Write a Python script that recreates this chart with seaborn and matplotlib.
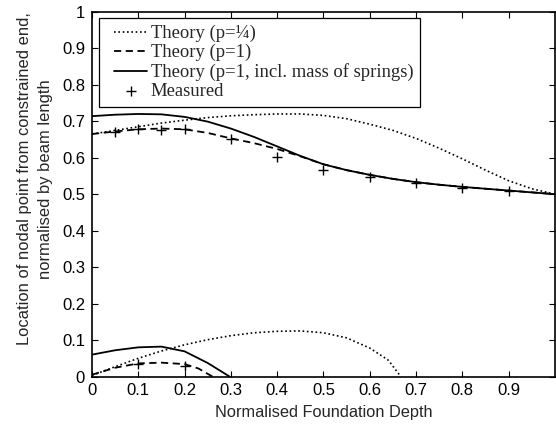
import numpy as np
import pandas as pd
import matplotlib
matplotlib.use("Agg")
import matplotlib.pyplot as plt
from matplotlib.lines import Line2D
from matplotlib.collections import PathCollection
from matplotlib.legend_handler import HandlerLine2D, HandlerPathCollection
import seaborn as sns

# ---- data ----
x_up = [0, 0.05, 0.1, 0.15, 0.2, 0.25, 0.3, 0.35, 0.4, 0.45, 0.5, 0.55, 0.6,
        0.65, 0.7, 0.75, 0.8, 0.85, 0.9, 0.95, 1.0]
dotted_up = [0.665, 0.675, 0.685, 0.695, 0.703, 0.71, 0.715, 0.718, 0.72, 0.72,
             0.716, 0.707, 0.692, 0.675, 0.653, 0.626, 0.597, 0.566, 0.537, 0.515, 0.5]
solid_up = [0.714, 0.718, 0.72, 0.719, 0.712, 0.699, 0.680, 0.657, 0.631, 0.605,
            0.582, 0.566, 0.553, 0.542, 0.533, 0.526, 0.52, 0.515, 0.51, 0.505, 0.5]
dashed_up = [0.665, 0.672, 0.678, 0.68, 0.678, 0.668, 0.653, 0.64, 0.624, 0.604,
             0.582, 0.566, 0.553, 0.542, 0.533, 0.526, 0.52, 0.515, 0.51, 0.505, 0.5]

x_dot_lo = [0, 0.05, 0.1, 0.15, 0.2, 0.25, 0.3, 0.35, 0.4, 0.45, 0.5, 0.55, 0.6, 0.64, 0.667]
dotted_lo = [0.003, 0.027, 0.05, 0.07, 0.087, 0.101, 0.112, 0.12, 0.124, 0.125,
             0.12, 0.106, 0.078, 0.045, 0.0]
x_sol_lo = [0, 0.05, 0.1, 0.15, 0.2, 0.25, 0.297]
solid_lo = [0.06, 0.072, 0.08, 0.082, 0.069, 0.037, 0.0]
x_dash_lo = [0, 0.05, 0.1, 0.15, 0.2, 0.23, 0.26]
dashed_lo = [0.005, 0.024, 0.036, 0.038, 0.034, 0.022, 0.0]

x_meas = [0.05, 0.1, 0.15, 0.2, 0.3, 0.4, 0.5, 0.6, 0.7, 0.8, 0.9, 0.1, 0.2]
y_meas = [0.671, 0.678, 0.676, 0.678, 0.65, 0.603, 0.567, 0.548, 0.53, 0.518, 0.509,
          0.035, 0.03]

labels = ["Theory (p=¼)", "Theory (p=1)", "Theory (p=1, incl. mass of springs)", "Measured"]
x_ticks = [0, 0.1, 0.2, 0.3, 0.4, 0.5, 0.6, 0.7, 0.8, 0.9]
x_tick_labels = ["0", "0.1", "0.2", "0.3", "0.4", "0.5", "0.6", "0.7", "0.8", "0.9"]
y_ticks = [0, 0.1, 0.2, 0.3, 0.4, 0.5, 0.6, 0.7, 0.8, 0.9, 1.0]
y_tick_labels = ["0", "0.1", "0.2", "0.3", "0.4", "0.5", "0.6", "0.7", "0.8", "0.9", "1"]

# ---- plot ----
sns.set_style("ticks")
plt.rcParams['font.family'] = ['Liberation Sans', 'DejaVu Sans']

fig = plt.figure(figsize=(5.56, 4.24), dpi=100)
ax = fig.add_axes([0.1655, 0.112, 0.8325, 0.86])

lw = 1.3
dot_ls = (0, (1, 1.6))
dash_ls = (0, (4, 2.5))
sns.lineplot(x=x_up, y=dotted_up, ax=ax, color='k', linestyle=dot_ls, lw=1.2,
             label=labels[0], estimator=None, sort=False)
sns.lineplot(x=x_up, y=dashed_up, ax=ax, color='k', linestyle=dash_ls, lw=lw,
             label=labels[1], estimator=None, sort=False)
sns.lineplot(x=x_up, y=solid_up, ax=ax, color='k', linestyle='-', lw=lw,
             label=labels[2], estimator=None, sort=False)
sns.lineplot(x=x_dot_lo, y=dotted_lo, ax=ax, color='k', linestyle=dot_ls, lw=1.2,
             legend=False, estimator=None, sort=False)
sns.lineplot(x=x_dash_lo, y=dashed_lo, ax=ax, color='k', linestyle=dash_ls, lw=lw,
             legend=False, estimator=None, sort=False)
sns.lineplot(x=x_sol_lo, y=solid_lo, ax=ax, color='k', linestyle='-', lw=lw,
             legend=False, estimator=None, sort=False)
sns.scatterplot(x=x_meas, y=y_meas, ax=ax, marker='+', color='k', s=60, linewidth=1.0,
                label=labels[3], zorder=5)

ax.set_xlim(0, 1)
ax.set_ylim(0, 1)
ax.set_xticks(x_ticks)
ax.set_xticklabels(x_tick_labels)
ax.set_yticks(y_ticks)
ax.set_yticklabels(y_tick_labels)
ax.tick_params(direction='in', top=True, right=True, length=4, width=0.8,
               labelsize=12, colors='k', pad=5)
for s in ax.spines.values():
    s.set_visible(True)
    s.set_linewidth(1.2)
    s.set_color('k')

ax.set_xlabel("Normalised Foundation Depth", fontsize=11.8, labelpad=5)
ax.set_ylabel("Location of nodal point from constrained end,\nnormalised by beam length",
              fontsize=11.9, linespacing=1.45)
ax.yaxis.set_label_coords(-0.085, 0.542)

h, l = ax.get_legend_handles_labels()
hmap = {Line2D: HandlerLine2D(xpad=0.5), PathCollection: HandlerPathCollection(xpad=0.5)}
leg = ax.legend(h, l, loc='upper left', bbox_to_anchor=(0.0, 1.0), frameon=True,
                fancybox=False, framealpha=1, edgecolor='k',
                prop={'family': ['Liberation Serif', 'DejaVu Serif'], 'size': 13.4},
                handlelength=2.25, handletextpad=0.2, borderpad=0.35, labelspacing=0.1,
                borderaxespad=0.35, handler_map=hmap)
leg.get_frame().set_linewidth(0.9)

fig.savefig("out.png", dpi=100)
